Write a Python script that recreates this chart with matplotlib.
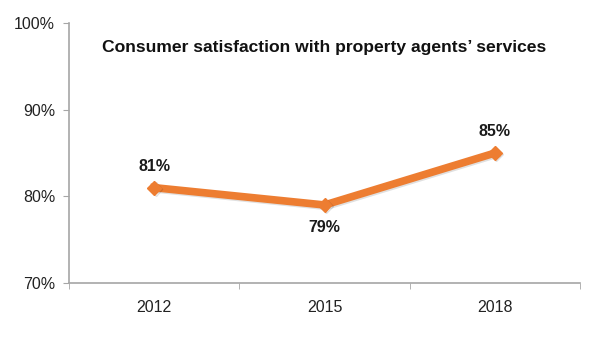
import matplotlib.pyplot as plt
import matplotlib.patheffects as pe
import numpy as np

plt.rcParams['font.family'] = ['Liberation Sans', 'DejaVu Sans']

years = ['2012', '2015', '2018']
satisfaction = [81, 79, 85]
label_offsets = [10, -11, 10]  # points above/below the marker

fig = plt.figure(figsize=(6, 3.6), dpi=100)
ax = fig.add_axes([0.115, 0.214, 0.852, 0.722])

x = np.arange(len(years))
orange = '#ED7D31'
ax.plot(x, satisfaction, color=orange, lw=5.5, marker='D', ms=7,
        solid_joinstyle='miter', zorder=3,
        path_effects=[pe.SimpleLineShadow(offset=(1, -1), alpha=0.12), pe.Normal()])

for xi, v, off in zip(x, satisfaction, label_offsets):
    ax.annotate(f'{v}%', (xi, v), xytext=(0, off), textcoords='offset points',
                ha='center', va='bottom' if off > 0 else 'top',
                fontsize=11.5, fontweight='bold', color='#1a1a1a')

ax.set_xlim(-0.5, len(years) - 0.5)
ax.set_ylim(70, 100)
ax.set_yticks([70, 80, 90, 100])
ax.set_yticklabels([f'{t}%' for t in [70, 80, 90, 100]])
ax.set_xticks(x)
ax.set_xticklabels(years)
ax.set_xticks(np.arange(-0.5, len(years)), minor=True)
ax.tick_params(axis='x', which='major', length=0, pad=12, labelsize=11.5, labelcolor='#222222')
ax.tick_params(axis='x', which='minor', length=4, color='#A6A6A6', direction='out')
ax.tick_params(axis='y', length=4, color='#A6A6A6', labelsize=11.5, labelcolor='#222222', pad=6)

for s in ['top', 'right']:
    ax.spines[s].set_visible(False)
for s in ['left', 'bottom']:
    ax.spines[s].set_color('#A6A6A6')
    ax.spines[s].set_linewidth(1.2)

ax.text(0.5, 0.905, 'Consumer satisfaction with property agents\u2019 services',
        transform=ax.transAxes, ha='center', va='center',
        fontsize=12.6, fontweight='bold', color='#111111')

fig.savefig('out.png', dpi=100)
